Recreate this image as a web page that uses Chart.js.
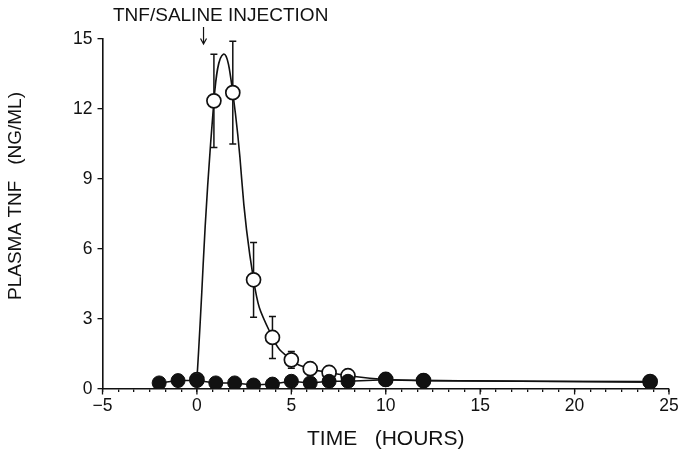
<!DOCTYPE html>
<html>
<head>
<meta charset="utf-8">
<script src="https://cdn.jsdelivr.net/npm/chart.js@4.4.1/dist/chart.umd.min.js"></script>
<style>
  html, body { margin: 0; padding: 0; background: #fff; }
  #wrap { width: 683px; height: 456px; }
</style>
</head>
<body>
<div id="wrap"><canvas id="c" width="683" height="456"></canvas></div>
<script>
// Saline-injected animals (filled circles)
const salineHours = [-2, -1, 0, 1, 2, 3, 4, 5, 6, 7, 8, 10, 12, 24];
const salineTnf   = [0.26, 0.36, 0.36, 0.26, 0.26, 0.17, 0.21, 0.33, 0.26, 0.33, 0.33, 0.40, 0.36, 0.29];

// TNF-injected animals (open circles) with error bars
const tnfHours  = [0, 0.9, 1.9, 3, 4, 5, 6, 7, 8, 10, 12, 24];
const tnfValues = [0.40, 12.35, 12.70, 4.68, 2.21, 1.25, 0.87, 0.71, 0.57, 0.41, 0.36, 0.32];
const tnfErrors = [0, 2.0, 2.2, 1.6, 0.9, 0.36, 0, 0, 0, 0, 0, 0];

// Smoothed time course drawn through the TNF group
const curveHours  = [0, 0.9, 1.4, 1.9, 3, 4, 5, 6, 7, 8, 10, 12, 24];
const curveValues = [0.40, 12.35, 14.35, 12.70, 4.68, 2.21, 1.25, 0.87, 0.71, 0.57, 0.41, 0.36, 0.32];

// Axis ticks
const xTickLabels = [-5, 0, 5, 10, 15, 20, 25];
const xMinorPerMajor = 6;
const yTickLabels = [0, 3, 6, 9, 12, 15];

const injectionHour = 0.35;
const injectionText = 'TNF/SALINE INJECTION';
const xTitle = 'TIME   (HOURS)';
const yTitle = 'PLASMA TNF   (NG/ML)';

const FONT = "'Liberation Sans', Arial, Helvetica, sans-serif";
const INK = '#111';

const pts = (xs, ys) => xs.map((x, i) => ({ x: x, y: ys[i] }));
const isMajor = v => xTickLabels.some(t => Math.abs(t - v) < 1e-6);

const decor = {
  id: 'decor',
  beforeDatasetsDraw(chart) {
    const { ctx, scales: { x, y } } = chart;
    ctx.save();
    ctx.strokeStyle = INK;
    ctx.lineWidth = 1.5;
    tnfHours.forEach((h, i) => {
      const e = tnfErrors[i];
      if (!e) return;
      const px = x.getPixelForValue(h);
      const top = y.getPixelForValue(tnfValues[i] + e);
      const bot = y.getPixelForValue(tnfValues[i] - e);
      ctx.beginPath();
      ctx.moveTo(px, top); ctx.lineTo(px, bot);
      ctx.moveTo(px - 3.5, top); ctx.lineTo(px + 3.5, top);
      ctx.moveTo(px - 3.5, bot); ctx.lineTo(px + 3.5, bot);
      ctx.stroke();
    });
    ctx.restore();
  },
  afterDraw(chart) {
    const { ctx, chartArea, scales: { x } } = chart;
    ctx.save();
    ctx.strokeStyle = INK;
    ctx.fillStyle = INK;
    ctx.lineWidth = 1.3;
    // longer ticks at labelled hours
    xTickLabels.forEach(v => {
      const px = x.getPixelForValue(v);
      ctx.beginPath();
      ctx.moveTo(px, chartArea.bottom);
      ctx.lineTo(px, chartArea.bottom + 5.5);
      ctx.stroke();
    });
    // injection marker
    const ax = x.getPixelForValue(injectionHour);
    ctx.lineWidth = 1.2;
    ctx.beginPath();
    ctx.moveTo(ax, 27); ctx.lineTo(ax, 44);
    ctx.moveTo(ax - 3, 38.5); ctx.lineTo(ax, 44); ctx.lineTo(ax + 3, 38.5);
    ctx.stroke();
    ctx.font = '19px ' + FONT;
    ctx.textAlign = 'left';
    ctx.textBaseline = 'alphabetic';
    ctx.fillText(injectionText, 113, 21);
    // vertical axis title
    ctx.translate(16, 196);
    ctx.rotate(-Math.PI / 2);
    ctx.font = '19px ' + FONT;
    ctx.textAlign = 'center';
    ctx.textBaseline = 'middle';
    ctx.fillText(yTitle, 0, 0);
    ctx.restore();
  }
};

new Chart(document.getElementById('c'), {
  type: 'scatter',
  data: {
    datasets: [
      {
        label: 'Saline',
        data: pts(salineHours, salineTnf),
        showLine: true,
        borderColor: INK,
        borderWidth: 1.5,
        tension: 0,
        pointRadius: 7,
        pointBackgroundColor: INK,
        pointBorderColor: INK,
        pointBorderWidth: 1,
        order: 1
      },
      {
        label: 'TNF',
        data: pts(tnfHours, tnfValues),
        showLine: false,
        pointRadius: 7,
        pointBackgroundColor: '#fff',
        pointBorderColor: INK,
        pointBorderWidth: 1.7,
        order: 2
      },
      {
        label: 'TNF course',
        data: pts(curveHours, curveValues),
        showLine: true,
        borderColor: INK,
        borderWidth: 1.6,
        tension: 0.5,
        pointRadius: 0,
        order: 3
      }
    ]
  },
  options: {
    responsive: false,
    animation: false,
    devicePixelRatio: 1,
    layout: { padding: { left: 0, right: 14, top: 39, bottom: 0 } },
    plugins: { legend: { display: false }, tooltip: { enabled: false } },
    scales: {
      x: {
        type: 'linear',
        min: -5,
        max: 25,
        afterBuildTicks(scale) {
          const step = 5 / xMinorPerMajor;
          const n = Math.round((25 - (-5)) / step);
          const t = [];
          for (let i = 0; i <= n; i++) t.push({ value: -5 + i * step });
          scale.ticks = t;
        },
        afterFit(scale) { scale.height = 67; },
        grid: { drawOnChartArea: false, drawTicks: true, tickLength: 3, color: INK, lineWidth: 1.3 },
        border: { display: true, color: INK, width: 1.6 },
        ticks: {
          autoSkip: false,
          maxRotation: 0,
          padding: 4,
          color: INK,
          font: { family: FONT, size: 17.5 },
          callback(v) {
            if (!isMajor(v)) return '';
            const r = Math.round(v);
            return r < 0 ? '\u2212' + Math.abs(r) : String(r);
          }
        },
        title: {
          display: true,
          text: xTitle,
          color: INK,
          font: { family: FONT, size: 21 },
          padding: { top: 0, bottom: 4 }
        }
      },
      y: {
        type: 'linear',
        min: 0,
        max: 15,
        afterBuildTicks(scale) { scale.ticks = yTickLabels.map(v => ({ value: v })); },
        afterFit(scale) { scale.width = 102.5; },
        grid: { drawOnChartArea: false, drawTicks: true, tickLength: 5, color: INK, lineWidth: 1.3 },
        border: { display: true, color: INK, width: 1.6 },
        ticks: {
          padding: 5,
          color: INK,
          font: { family: FONT, size: 17.5 },
          callback(v) { return String(v); }
        }
      }
    }
  },
  plugins: [decor]
});
</script>
</body>
</html>
